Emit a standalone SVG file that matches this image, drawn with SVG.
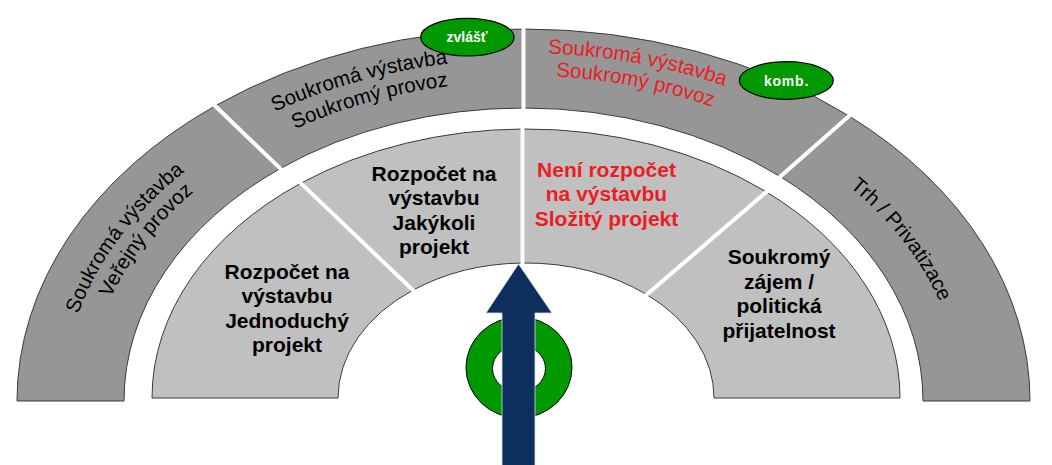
<svg xmlns="http://www.w3.org/2000/svg" width="1052" height="465" viewBox="0 0 1052 465">
<style>
.outer{fill:#969696;stroke:#3a3a3a;stroke-width:1}
.inner{fill:#c0c0c0;stroke:#3a3a3a;stroke-width:1}
.div{stroke:#fff;stroke-width:4;fill:none}
.ot{font-family:"Liberation Sans",Arial,sans-serif;font-size:20.5px;fill:#000}
.it{font-family:"Liberation Sans",Arial,sans-serif;font-size:21px;font-weight:bold;fill:#000;text-anchor:middle}
.red{fill:#ed1c24}
.pill{fill:#009900;stroke:#000;stroke-width:1.2}
.pt{font-family:"Liberation Sans",Arial,sans-serif;font-size:14px;font-weight:bold;fill:#fff;text-anchor:middle}
</style>
<defs>
<path id="p1a" d="M67.43,352.13 A460.9,338.53 0 0 1 216.9,148.24" fill="none"/>
<path id="p1b" d="M93.29,350.39 A435.7,320.02 0 0 1 238.23,159.11" fill="none"/>
<path id="p2a" d="M216.85,143.71 A465.55,341.95 0 0 1 513.75,59.13" fill="none"/>
<path id="p2b" d="M236.87,160.51 A435.15,319.62 0 0 1 514.39,81.45" fill="none"/>
<path id="p3a" d="M476.45,54.75 A473.75,347.97 0 0 1 790.47,113.54" fill="none"/>
<path id="p3b" d="M484.9,76.97 A442.85,325.27 0 0 1 777.51,134.56" fill="none"/>
<path id="p4" d="M809.26,157.58 A437.6,321.42 0 0 1 955.42,349.4" fill="none"/>
</defs>

<g id="outer-1">
<path class="outer" d="M17,401 A506.5,372 0 0 1 215.1,105.9 L280.3,168.5 A399.5,293 0 0 0 124,401 Z"/>
</g>
<g id="outer-2">
<path class="outer" d="M215.1,105.9 A506.5,372 0 0 1 523.5,29 L523.5,108 A399.5,293 0 0 0 280.3,168.5 Z"/>
</g>
<g id="outer-3">
<path class="outer" d="M523.5,29 A506.5,372 0 0 1 849.1,116 L780.3,176.6 A399.5,293 0 0 0 523.5,108 Z"/>
</g>
<g id="outer-4">
<path class="outer" d="M849.1,116 A506.5,372 0 0 1 1030,401 L923,401 A399.5,293 0 0 0 780.3,176.6 Z"/>
</g>
<g id="inner-1">
<path class="inner" d="M152,398 A374,269 0 0 1 300.9,183.2 L412.9,290.2 A188,135 0 0 0 338,398 Z"/>
</g>
<g id="inner-2">
<path class="inner" d="M300.9,183.2 A374,269 0 0 1 522.5,129 L522.5,263 A188,135 0 0 0 412.9,290.2 Z"/>
</g>
<g id="inner-3">
<path class="inner" d="M522.5,129 A374,269 0 0 1 766.4,191.9 L646.8,294.6 A188,135 0 0 0 522.5,263 Z"/>
</g>
<g id="inner-4">
<path class="inner" d="M766.4,191.9 A374,269 0 0 1 900,398 L714,398 A188,135 0 0 0 646.8,294.6 Z"/>
</g>

<g id="dividers" class="div">
<line x1="212.9" y1="103.8" x2="282.5" y2="170.6"/>
<line x1="523.5" y1="25" x2="523.5" y2="112"/>
<line x1="851.3" y1="114" x2="778.1" y2="178.6"/>
<line x1="298.7" y1="181.1" x2="415.1" y2="292.3"/>
<line x1="522.5" y1="125" x2="522.5" y2="267"/>
<line x1="768.7" y1="189.9" x2="644.5" y2="296.6"/>
</g>

<g id="outer-1-label">
<text class="ot" text-anchor="middle"><textPath href="#p1a" startOffset="50%">Soukromá výstavba</textPath></text>
<text class="ot" text-anchor="middle"><textPath href="#p1b" startOffset="50%">Veřejný provoz</textPath></text>
</g>
<g id="outer-2-label">
<text class="ot" text-anchor="middle"><textPath href="#p2a" startOffset="50%">Soukromá výstavba</textPath></text>
<text class="ot" text-anchor="middle"><textPath href="#p2b" startOffset="50%">Soukromý provoz</textPath></text>
</g>
<g id="outer-3-label">
<text class="ot red" text-anchor="middle"><textPath href="#p3a" startOffset="50%">Soukromá výstavba</textPath></text>
<text class="ot red" text-anchor="middle"><textPath href="#p3b" startOffset="50%">Soukromý provoz</textPath></text>
</g>
<g id="outer-4-label">
<text class="ot" text-anchor="middle"><textPath href="#p4" startOffset="50%">Trh / Privatizace</textPath></text>
</g>

<g id="inner-1-label">
<text class="it" x="287" y="278.5">Rozpočet na</text>
<text class="it" x="287" y="303">výstavbu</text>
<text class="it" x="287" y="327.5">Jednoduchý</text>
<text class="it" x="287" y="352">projekt</text>
</g>
<g id="inner-2-label">
<text class="it" x="434" y="180.5">Rozpočet na</text>
<text class="it" x="434" y="205">výstavbu</text>
<text class="it" x="434" y="229.5">Jakýkoli</text>
<text class="it" x="434" y="254">projekt</text>
</g>
<g id="inner-3-label">
<text class="it red" x="606.5" y="176.7">Není rozpočet</text>
<text class="it red" x="606.5" y="201.2">na výstavbu</text>
<text class="it red" x="606.5" y="225.7">Složitý projekt</text>
</g>
<g id="inner-4-label">
<text class="it" x="779" y="264">Soukromý</text>
<text class="it" x="779" y="288.7">zájem /</text>
<text class="it" x="779" y="313.4">politická</text>
<text class="it" x="779" y="338">přijatelnost</text>
</g>

<g id="badge-zvlast">
<ellipse class="pill" cx="467.3" cy="37.2" rx="46.7" ry="18.8"/>
<text class="pt" x="467" y="42.3">zvlášť</text>
</g>
<g id="badge-komb">
<ellipse class="pill" cx="786.3" cy="80.5" rx="47" ry="18.8"/>
<text class="pt" x="786.5" y="86" letter-spacing="0.8">komb.</text>
</g>

<g id="ring">
<path d="M466,367.5 a53,50.5 0 1,0 106,0 a53,50.5 0 1,0 -106,0 Z M492.5,368.5 a26.5,23.5 0 1,0 53,0 a26.5,23.5 0 1,0 -53,0 Z" fill="#009900" fill-rule="evenodd" stroke="#000" stroke-width="1"/>
</g>

<g id="connectors">
<polygon points="518.5,264 552,313 535,313 535,466 502,466 502,313 486,313" fill="#0d2f5e" stroke="#d6dde8" stroke-width="0.8"/>
</g>
</svg>
